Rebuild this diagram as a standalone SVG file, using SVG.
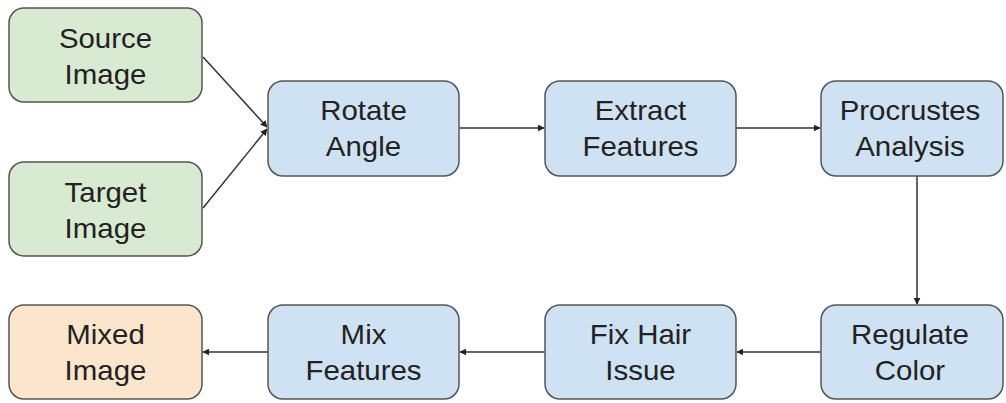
<svg xmlns="http://www.w3.org/2000/svg" width="1006" height="403" viewBox="0 0 1006 403">
<style>
.n rect{stroke:#555;stroke-width:1.5}
.g rect{fill:#d9ead3}
.b rect{fill:#cfe2f3}
.o rect{fill:#fce5cd}
.n text{font-family:"Liberation Sans",Arial,sans-serif;font-size:27px;fill:#222;text-anchor:middle}
.c line{stroke:#333;stroke-width:1.5;marker-end:url(#ah)}
</style>
<defs>
<marker id="ah" viewBox="0 0 10 10" refX="9" refY="5" markerWidth="7" markerHeight="7" markerUnits="userSpaceOnUse" orient="auto">
<path d="M0,0L10,5L0,10z" fill="#222"/>
</marker>
</defs>
<rect width="1006" height="403" fill="#fff"/>
<g class="c">
<line x1="203" y1="57" x2="267" y2="127"/>
<line x1="203" y1="208" x2="267" y2="129"/>
<line x1="459" y1="128" x2="544" y2="128"/>
<line x1="736" y1="128" x2="820" y2="128"/>
<line x1="917" y1="176" x2="917" y2="304"/>
<line x1="821" y1="352" x2="737" y2="352"/>
<line x1="545" y1="352" x2="460" y2="352"/>
<line x1="268" y1="352" x2="203" y2="352"/>
</g>
<g id="source" class="n g"><rect x="9" y="8" width="193" height="94" rx="15"/><text transform="translate(105.5,48) scale(1.09,1)">Source</text><text transform="translate(105.5,84) scale(1.09,1)">Image</text></g>
<g id="target" class="n g"><rect x="9" y="162" width="193" height="94" rx="15"/><text transform="translate(105.5,202) scale(1.09,1)">Target</text><text transform="translate(105.5,238) scale(1.09,1)">Image</text></g>
<g id="rotate" class="n b"><rect x="268" y="81" width="191" height="95" rx="15"/><text transform="translate(363.5,120) scale(1.09,1)">Rotate</text><text transform="translate(363.5,156) scale(1.09,1)">Angle</text></g>
<g id="extract" class="n b"><rect x="545" y="81" width="191" height="95" rx="15"/><text transform="translate(640.5,120) scale(1.09,1)">Extract</text><text transform="translate(640.5,156) scale(1.09,1)">Features</text></g>
<g id="procrustes" class="n b"><rect x="821" y="81" width="182" height="95" rx="15"/><text transform="translate(910,120) scale(1.09,1)">Procrustes</text><text transform="translate(910,156) scale(1.09,1)">Analysis</text></g>
<g id="regulate" class="n b"><rect x="821" y="305" width="182" height="94" rx="15"/><text transform="translate(910,344) scale(1.09,1)">Regulate</text><text transform="translate(910,380) scale(1.09,1)">Color</text></g>
<g id="fixhair" class="n b"><rect x="545" y="305" width="191" height="94" rx="15"/><text transform="translate(640.5,344) scale(1.09,1)">Fix Hair</text><text transform="translate(640.5,380) scale(1.09,1)">Issue</text></g>
<g id="mix" class="n b"><rect x="268" y="305" width="191" height="94" rx="15"/><text transform="translate(363.5,344) scale(1.09,1)">Mix</text><text transform="translate(363.5,380) scale(1.09,1)">Features</text></g>
<g id="mixed" class="n o"><rect x="9" y="305" width="193" height="94" rx="15"/><text transform="translate(105.5,344) scale(1.09,1)">Mixed</text><text transform="translate(105.5,380) scale(1.09,1)">Image</text></g>
</svg>
